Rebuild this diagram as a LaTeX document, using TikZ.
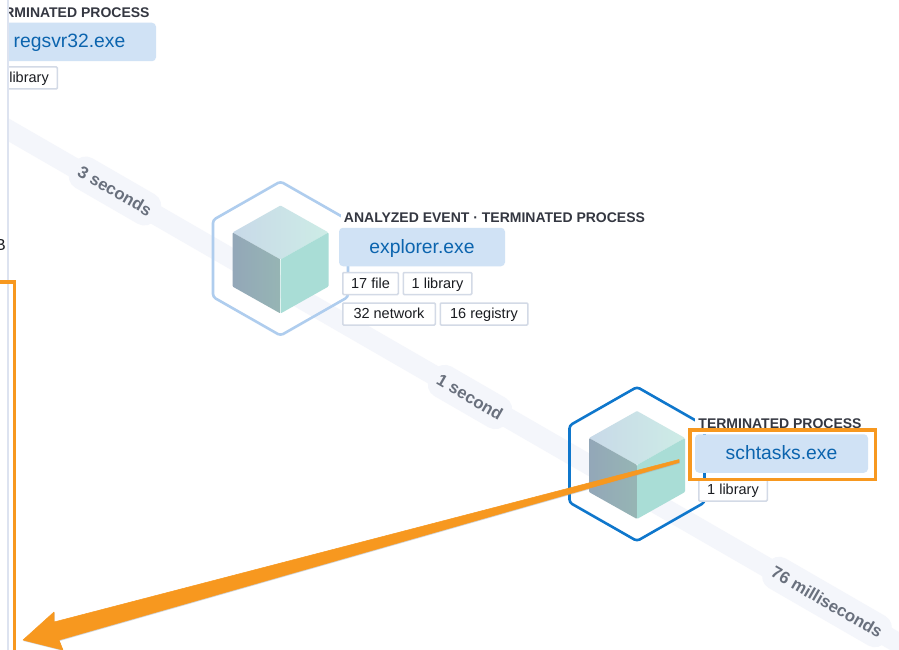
\documentclass[tikz,border=0pt]{standalone}
\usepackage{fontspec}
\setmainfont{Liberation Sans}
\usetikzlibrary{positioning}

\definecolor{bandgray}{HTML}{F4F6FB}
\definecolor{edgetext}{HTML}{69707D}
\definecolor{titletext}{HTML}{343741}
\definecolor{namefill}{HTML}{D0E2F5}
\definecolor{nametext}{HTML}{0B64AE}
\definecolor{chipline}{HTML}{D3DAE6}
\definecolor{chiptext}{HTML}{1A1C21}
\definecolor{hexpale}{HTML}{AFCDEE}
\definecolor{hexdeep}{HTML}{0F77CC}
\definecolor{markorange}{HTML}{F7981F}
\definecolor{panelline}{HTML}{DDE3F0}

\tikzset{
    band/.style={bandgray,line width=20pt},
    bandlabel/.style={fill=bandgray,text=edgetext,rounded corners=13pt,rotate=-30,minimum height=34pt,
        inner xsep=8pt,font=\fontsize{16.8}{18}\selectfont\bfseries},
    namebox/.style={fill=namefill,text=nametext,rounded corners=4pt,minimum height=38.5pt,
        text height=15pt,text depth=3pt,inner ysep=0pt,font=\fontsize{19.3}{21}\selectfont},
    proctitle/.style={fill=white,text=titletext,inner xsep=3pt,inner ysep=2pt,
        text height=12.5pt,text depth=3pt,font=\fontsize{14}{15}\selectfont\bfseries},
    chip/.style={draw=chipline,fill=white,text=chiptext,line width=1.5pt,rounded corners=1pt,
        minimum height=22pt,inner xsep=0pt,inner ysep=0pt,text height=12.5pt,text depth=3pt,
        font=\fontsize{14.5}{16}\selectfont},
    markbox/.style={draw=markorange,line width=3.5pt},
    procnode/.pic={
        \draw[#1,line width=2.6pt,rounded corners=3pt] (0,-77) -- (67.5,-38.5) -- (67.5,38.5)
            -- (0,77) -- (-67.5,38.5) -- (-67.5,-38.5) -- cycle;
        \shade[left color=cubetopl,right color=cubetopr,rounded corners=1pt]
            (0,-53) -- (48,-26) -- (0,1) -- (-48,-26) -- cycle;
        \shade[left color=cubeleftl,right color=cubeleftr,rounded corners=1pt]
            (-48,-26) -- (0,1) -- (0,55) -- (-48,28) -- cycle;
        \fill[cuberight,rounded corners=1pt] (48,-26) -- (0,1) -- (0,55) -- (48,28) -- cycle;
    }
}
\definecolor{cubetopl}{HTML}{C8D9E8}
\definecolor{cubetopr}{HTML}{CDECE6}
\definecolor{cubeleftl}{HTML}{93A7B8}
\definecolor{cubeleftr}{HTML}{96B5B4}
\definecolor{cuberight}{HTML}{A9DDD6}

\begin{document}
\begin{tikzpicture}[x=1pt,y=-1pt]
    \clip (0,0) rectangle (899,650);
    \fill[white] (0,0) rectangle (899,650);

    % timeline
    \coordinate (bandstart) at (0,125);
    \coordinate (bandend) at (905,647);
    \draw[band] (bandstart) -- (bandend);
    \node[bandlabel] (threesec) at (115,191) {3 seconds};
    \node[bandlabel] (onesec) at (470,397) {1 second};
    \node[bandlabel] (seventysix) at (827,602) {76 milliseconds};

    % process icons
    \pic (explorericon) at (280.5,258.5) {procnode=hexpale};
    \pic (schtasksicon) at (637,464) {procnode=hexdeep};

    % explorer.exe
    \node[proctitle] (explorertitle) at (494.5,218) {ANALYZED EVENT · TERMINATED PROCESS};
    \node[namebox,minimum width=166pt] (explorer) at (422,247) {explorer.exe};
    \node[chip,minimum width=55.5pt] (explorerfile) at (370.5,283.5) {17 file};
    \node[chip,minimum width=68.5pt,right=3.5pt of explorerfile] (explorerlib) {1 library};
    \node[chip,minimum width=92.5pt] (explorernet) at (389,314) {32 network};
    \node[chip,minimum width=87.5pt,right=3.5pt of explorernet] (explorerreg) {16 registry};

    % schtasks.exe
    \node[proctitle] (schtaskstitle) at (780,424) {TERMINATED PROCESS};
    \node[namebox,minimum width=173pt] (schtasks) at (781.5,453.5) {schtasks.exe};
    \node[chip,minimum width=68.5pt] (schtaskslib) at (733,490) {1 library};
    \node[markbox,minimum width=185.5pt,minimum height=49.5pt,inner sep=0pt] (schtasksmark) at (782.5,454.5) {};

    % regsvr32.exe, cut by the panel
    \node[proctitle] (regsvrtitle) at (68,13) {TERMINATED PROCESS};
    \node[namebox,minimum width=173pt] (regsvr) at (69.5,42) {regsvr32.exe};
    \node[chip,minimum width=68.5pt] (regsvrlib) at (23,78) {1 library};

    % side panel
    \fill[white] (0,0) rectangle (8,650);
    \coordinate (paneltop) at (8,0);
    \coordinate (panelbottom) at (8,650);
    \draw[panelline,line width=1.5pt] (paneltop) -- (panelbottom);
    \node[text=chiptext,inner sep=0pt,font=\fontsize{16}{18}\selectfont] (panelchar) at (0.5,245) {B};
    \coordinate (markleft) at (-5,282);
    \coordinate (markcorner) at (14.5,282);
    \coordinate (markdown) at (14.5,655);
    \draw[markbox] (markleft) -- (markcorner) -- (markdown);

    % pointer
    \coordinate (pointertail) at (679,461);
    \coordinate (pointertip) at (23,640);
    \fill[black!35,opacity=.5,shift={(0.5,1)}] (679,459.5) -- (679,462.5) -- (59,640) -- (63,650) -- (23,640)
        -- (54,612) -- (54,622) -- cycle;
    \fill[markorange,draw=markorange,line width=.5pt,line join=round] (pointertail) ++(0,-1.5) -- ++(0,3) -- (59,640) -- (63,650)
        -- (pointertip) -- (54,612) -- (54,622) -- cycle;
\end{tikzpicture}
\end{document}
